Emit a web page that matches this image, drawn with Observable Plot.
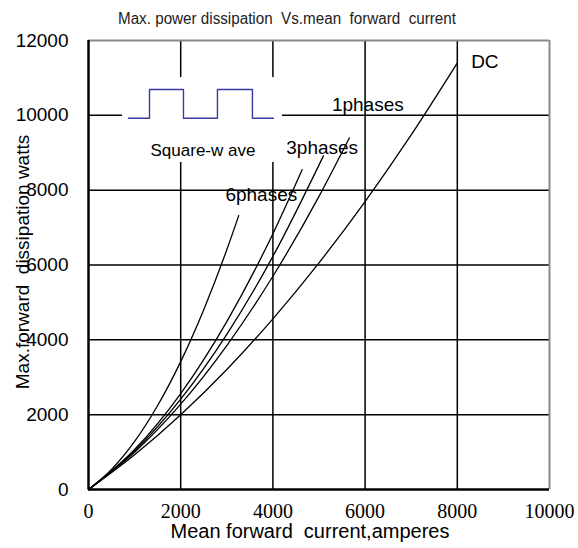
<!DOCTYPE html>
<html>
<head>
<meta charset="utf-8">
<script src="https://cdn.jsdelivr.net/npm/d3@7"></script>
<script src="https://cdn.jsdelivr.net/npm/@observablehq/plot@0.6"></script>
<style>
  html, body { margin: 0; padding: 0; background: #fff; }
  #chart svg { display: block; }
</style>
</head>
<body>
<div id="chart"></div>
<script>
// ---- data ----
const dcI  = [0, 1000, 2000, 3000, 4000, 5000, 6000, 7000, 8000];
const dcP  = [0, 927, 1996, 3208, 4562, 6058, 7696, 9476, 11398];
const sqI  = [0, 1000, 2000, 3000, 4000, 5000, 5659];
const sqP  = [0, 998, 2281, 3848, 5699, 7835, 9398];
const ph1I = [0, 1000, 2000, 3000, 4000, 5096];
const ph1P = [0, 1031, 2414, 4147, 6230, 8917];
const ph3I = [0, 1000, 2000, 3000, 4000, 4634];
const ph3P = [0, 1069, 2565, 4488, 6837, 8547];
const ph6I = [0, 500, 1000, 1500, 2000, 2500, 3000, 3259];
const ph6P = [0, 535, 1283, 2244, 3418, 4806, 6407, 7321];

const xTicks = [0, 2000, 4000, 6000, 8000, 10000];
const yTicks = [0, 2000, 4000, 6000, 8000, 10000, 12000];

const curveNames = ["DC", "Square-wave", "1phase", "3phases", "6phases"];
const labelTexts = ["DC", "1phases", "3phases", "6phases"];

// ---- annotation placement (data space) ----
const labelX = [8300, 5280, 4290, 2970];
const labelY = [11420, 10290, 9140, 7880];
const waveX = [867, 1323, 1323, 2060, 2060, 2797, 2797, 3556, 3556, 4011];
const waveY = [9923, 9923, 10689, 10689, 9923, 9923, 10689, 10689, 9923, 9923];
const legendBox = {x1: 737, x2: 4206, y1: 8739, y2: 11010};
const legendText = {x: 2483, y: 9060, text: "Square-w ave"};

const series = [[dcI, dcP], [sqI, sqP], [ph1I, ph1P], [ph3I, ph3P], [ph6I, ph6P]];
const rows = series.flatMap(([I, P], k) => I.map((v, i) => ({name: curveNames[k], I: v, P: P[i]})));
const labels = labelTexts.map((t, i) => ({text: t, x: labelX[i], y: labelY[i]}));
const wave = waveX.map((x, i) => ({x, y: waveY[i]}));

const sans = "'Liberation Sans', Arial, sans-serif";
const serif = "'Liberation Serif', 'Times New Roman', serif";

const chart = Plot.plot({
  width: 578,
  height: 548,
  marginLeft: 88,
  marginRight: 29,
  marginTop: 40,
  marginBottom: 59,
  x: {domain: [0, 10000]},
  y: {domain: [0, 12000]},
  style: {background: "white", fontFamily: sans, color: "black"},
  marks: [
    Plot.gridX(xTicks.slice(1, -1), {stroke: "#000", strokeOpacity: 1, strokeWidth: 1.5}),
    Plot.gridY(yTicks.slice(1, -1), {stroke: "#000", strokeOpacity: 1, strokeWidth: 1.5}),
    Plot.ruleY([12000], {stroke: "#8a8a8a", strokeWidth: 2}),
    Plot.ruleX([10000], {stroke: "#8a8a8a", strokeWidth: 2}),
    Plot.rect([legendBox], {x1: "x1", x2: "x2", y1: "y1", y2: "y2", fill: "white"}),
    Plot.line(wave, {x: "x", y: "y", stroke: "#3a3aa6", strokeWidth: 1.4}),
    Plot.text([legendText], {x: "x", y: "y", text: "text", fontSize: 17, textAnchor: "middle", fill: "black"}),
    Plot.line(rows, {x: "I", y: "P", z: "name", stroke: "black", strokeWidth: 1.3, curve: "monotone-x"}),
    Plot.ruleX([0], {stroke: "black", strokeWidth: 2.5}),
    Plot.ruleY([0], {stroke: "black", strokeWidth: 2.5}),
    Plot.axisX({ticks: xTicks, tickSize: 0, tickPadding: 14, tickFormat: "d", fontSize: 20, fontFamily: serif, label: null}),
    Plot.axisY({ticks: yTicks, tickSize: 0, tickPadding: 20, tickFormat: "d", fontSize: 19, label: null}),
    Plot.text(labels, {x: "x", y: "y", text: "text", textAnchor: "start", fontSize: 19, fill: "black"})
  ]
});

const svg = d3.select(chart);
svg.append("text")
  .attr("x", 118).attr("y", 24)
  .attr("text-anchor", "start")
  .attr("textLength", 338)
  .attr("lengthAdjust", "spacingAndGlyphs")
  .style("font-family", sans)
  .style("font-size", "16px")
  .attr("fill", "#222")
  .text("Max. power dissipation  Vs.mean  forward  current");
svg.append("text")
  .attr("x", 310).attr("y", 538)
  .attr("text-anchor", "middle")
  .style("font-family", sans)
  .style("font-size", "20px")
  .attr("fill", "black")
  .text("Mean forward  current,amperes");
svg.append("text")
  .attr("transform", "translate(29,262) rotate(-90)")
  .attr("text-anchor", "middle")
  .style("font-family", sans)
  .style("font-size", "19px")
  .attr("fill", "black")
  .text("Max.forward  dissipation watts");

document.getElementById("chart").appendChild(chart);
</script>
</body>
</html>
